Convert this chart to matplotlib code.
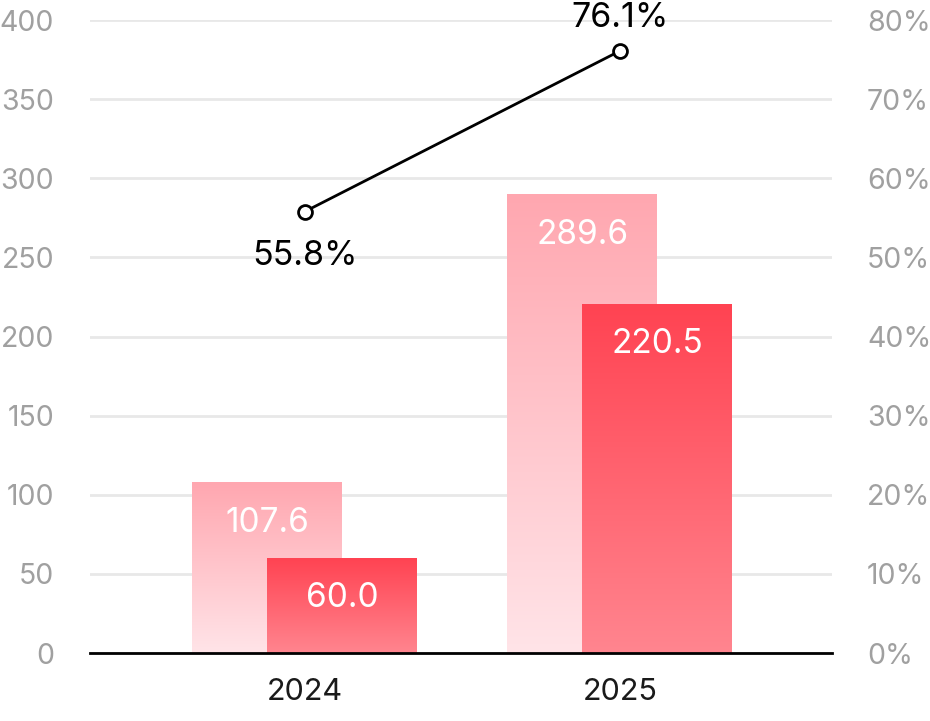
import numpy as np
import matplotlib
matplotlib.use("Agg")
import matplotlib.pyplot as plt
from matplotlib.colors import LinearSegmentedColormap

plt.rcParams['font.family'] = ['Inter', 'DejaVu Sans']

# data
annees = ["2024", "2025"]
valeurs_claires = [107.6, 289.6]
valeurs_foncees = [60.0, 220.5]
pourcentages = [55.8, 76.1]
ticks_gauche = [0, 50, 100, 150, 200, 250, 300, 350, 400]
ticks_droite = [0, 10, 20, 30, 40, 50, 60, 70, 80]

cmap_claire = LinearSegmentedColormap.from_list("claire", ["#FFE4E8", "#FFA7B0"])
cmap_foncee = LinearSegmentedColormap.from_list("foncee", ["#FF858F", "#FF4352"])

largeur = 0.476
decalage = 0.119


# dessine une barre avec un degrade vertical
def barre_degrade(ax, x, h, cmap, z):
    grad = np.linspace(0, 1, 256).reshape(-1, 1)
    ax.imshow(grad, cmap=cmap, origin="lower", aspect="auto",
              extent=[x - largeur / 2, x + largeur / 2, 0, h], zorder=z)


fig = plt.figure(figsize=(9.3, 7.21), dpi=100)
ax = fig.add_axes([0.097, 0.0943, 0.798, 0.8777])

x = np.arange(len(annees))
for i in range(len(annees)):
    barre_degrade(ax, x[i] - decalage, valeurs_claires[i], cmap_claire, 2)
    ax.annotate(f"{valeurs_claires[i]:.1f}", (x[i] - decalage, valeurs_claires[i]),
                xytext=(0, -29), textcoords="offset points", ha="center", va="center",
                color="white", fontsize=24, zorder=5)
    barre_degrade(ax, x[i] + decalage, valeurs_foncees[i], cmap_foncee, 3)
    ax.annotate(f"{valeurs_foncees[i]:.1f}", (x[i] + decalage, valeurs_foncees[i]),
                xytext=(0, -29), textcoords="offset points", ha="center", va="center",
                color="white", fontsize=24, zorder=5)

ax.set_xlim(-0.681, 1.675)
ax.set_ylim(0, 400)
ax.set_yticks(ticks_gauche)
ax.set_yticklabels([str(t) for t in ticks_gauche])
ax.set_xticks(x)
ax.set_xticklabels(annees)
ax.tick_params(axis="y", length=0, pad=26, labelsize=20.5, labelcolor="#A0A0A0")
ax.tick_params(axis="x", length=0, pad=18, labelsize=22, labelcolor="#1A1A1A")
ax.grid(axis="y", color="#E8E8E8", linewidth=2)
ax.set_axisbelow(True)
for s in ["top", "left", "right"]:
    ax.spines[s].set_visible(False)
ax.spines["bottom"].set_linewidth(2)
ax.spines["bottom"].set_color("black")
ax.spines["bottom"].set_zorder(6)

ax2 = ax.twinx()
ax2.set_ylim(0, 80)
ax2.set_yticks(ticks_droite)
ax2.set_yticklabels([f"{t}%" for t in ticks_droite])
ax2.tick_params(axis="y", length=0, pad=25, labelsize=20.5, labelcolor="#A0A0A0")
for s in ax2.spines.values():
    s.set_visible(False)

ax2.plot(x, pourcentages, color="black", linewidth=2, marker="o", markersize=10,
         markerfacecolor="white", markeredgecolor="black", markeredgewidth=2, zorder=7)
ax2.annotate(f"{pourcentages[0]}%", (x[0], pourcentages[0]), xytext=(0, -32),
             textcoords="offset points", ha="center", va="center", fontsize=24.5, color="black")
ax2.annotate(f"{pourcentages[1]}%", (x[1], pourcentages[1]), xytext=(0, 24),
             textcoords="offset points", ha="center", va="center", fontsize=24.5, color="black")

fig.savefig("out.png", dpi=100)
